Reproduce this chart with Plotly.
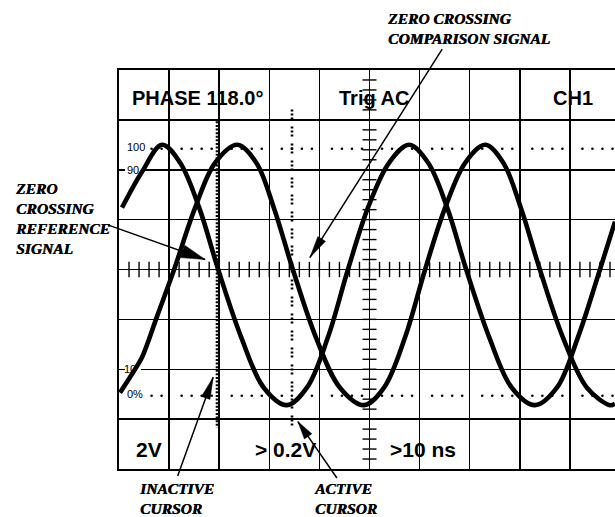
import numpy as np
import plotly.graph_objects as go

# ---------------- data (screen divisions) ----------------
# reference signal (zero crossing reference)
ref_x = [0.06, 0.46, 0.86, 1.22, 1.60, 1.98, 2.44, 2.89, 3.35, 3.75, 4.17, 4.57,
         4.97, 5.39, 5.79, 6.17, 6.55, 6.93, 7.39, 7.84, 8.30, 8.74, 9.16, 9.60, 9.90]
ref_y = [1.24, 1.96, 2.50, 2.14, 1.24, 0.00, -1.36, -2.37, -2.72, -2.37, -1.36, 0.00,
         1.24, 2.14, 2.50, 2.14, 1.24, 0.00, -1.36, -2.37, -2.72, -2.37, -1.36, 0.00, 0.96]
# comparison signal
cmp_x = [0.02, 0.32, 0.46, 0.76, 1.10, 1.52, 1.92, 2.36, 2.74, 3.09, 3.47, 3.93, 4.41,
         4.89, 5.29, 5.71, 6.11, 6.51, 6.91, 7.31, 7.67, 8.02, 8.40, 8.86, 9.34, 9.80, 9.90]
cmp_y = [-2.47, -2.00, -1.76, -0.94, 0.00, 1.24, 2.14, 2.50, 2.14, 1.24, 0.00, -1.36, -2.37,
         -2.72, -2.37, -1.36, 0.00, 1.24, 2.14, 2.50, 2.14, 1.24, 0.00, -1.36, -2.37, -2.72, -2.69]

inactive_cursor_x = 1.956
active_cursor_x = 3.453
level_100 = 2.42
level_0 = -2.53

screen_top_texts = ["PHASE 118.0°", "Trig AC", "CH1"]
screen_bottom_texts = ["2V", "> 0.2V", ">10 ns"]
level_labels = ["100", "90", "10", "0%"]
callouts = ["ZERO<br>CROSSING<br>REFERENCE<br>SIGNAL",
            "ZERO CROSSING<br>COMPARISON SIGNAL",
            "INACTIVE<br>CURSOR",
            "ACTIVE<br>CURSOR"]

# ---------------- layout geometry ----------------
W, H = 615, 517
L, T, B = 119, 70, 48
XR = (0, 9.9)
YR = (-4, 4)
PW, PH = W - L, H - T - B
sx = PW / (XR[1] - XR[0])
sy = PH / (YR[1] - YR[0])


def to_px(x, y):
    return L + (x - XR[0]) * sx, T + (YR[1] - y) * sy


def to_data(px, py):
    return XR[0] + (px - L) / sx, YR[1] - (py - T) / sy


def to_paper(x, y):
    return (x - XR[0]) / (XR[1] - XR[0]), (y - YR[0]) / (YR[1] - YR[0])


fig = go.Figure()

# dotted 100% / 0% reference levels
dot_x = np.array([d + o for d in range(10) for o in (0.25, 0.45, 0.65, 0.85)])
dot_x = dot_x[(dot_x > 0.6) & (dot_x < XR[1])]
for lv in (level_100, level_0):
    fig.add_trace(go.Scatter(x=dot_x, y=[lv] * len(dot_x), mode="markers",
                             marker=dict(size=2.6, color="black"),
                             hoverinfo="skip", showlegend=False))

# minor ticks on centre axes
tx = np.arange(0.2, XR[1], 0.2)
fig.add_trace(go.Scatter(x=tx, y=[0] * len(tx), mode="markers",
                         marker=dict(symbol="line-ns", size=11,
                                     line=dict(width=1.4, color="black")),
                         hoverinfo="skip", showlegend=False))
ty = np.arange(-3.8, 4.0, 0.2)
fig.add_trace(go.Scatter(x=[5] * len(ty), y=ty, mode="markers",
                         marker=dict(symbol="line-ew", size=10,
                                     line=dict(width=1.4, color="black")),
                         hoverinfo="skip", showlegend=False))

# cursors
fig.add_trace(go.Scatter(x=[inactive_cursor_x] * 2, y=[2.97, -3.17], mode="lines",
                         line=dict(color="black", width=2.6, dash="2px,1.6px"),
                         hoverinfo="skip", showlegend=False))
fig.add_trace(go.Scatter(x=[active_cursor_x] * 2, y=[3.21, -3.15], mode="lines",
                         line=dict(color="black", width=2.6,
                                   dash="2px,2px,2px,2px,2px,7px"),
                         hoverinfo="skip", showlegend=False))

# signals
for xs, ys in ((ref_x, ref_y), (cmp_x, cmp_y)):
    fig.add_trace(go.Scatter(x=xs, y=ys, mode="lines",
                             line=dict(color="black", width=4.6, shape="spline",
                                       smoothing=1.0),
                             hoverinfo="skip", showlegend=False))

shapes = []
# masks behind "90" and "10" labels (gridline interrupted)
for yv in (2, -2):
    x0, _ = to_data(125, 0)
    x1, _ = to_data(141, 0)
    shapes.append(dict(type="rect", xref="x", yref="y", x0=x0, x1=x1,
                       y0=yv - 0.08, y1=yv + 0.08, fillcolor="white",
                       line=dict(width=0), layer="between"))

annotations = []
sans_b20 = dict(family="Liberation Sans", size=20, color="black", weight="bold")
sans_b21 = dict(family="Liberation Sans", size=21, color="black", weight="bold")
# top row texts
for txt, xx in zip(screen_top_texts, (0.22, 4.35, 8.62)):
    annotations.append(dict(x=xx, y=3.43, text=txt, showarrow=False, xanchor="left",
                            yanchor="middle", font=sans_b20))
# bottom row texts
for txt, xx in zip(screen_bottom_texts, (0.30, 2.67, 5.36)):
    annotations.append(dict(x=xx, y=-3.6, text=txt, showarrow=False, xanchor="left",
                            yanchor="middle", font=sans_b21))
# level labels
for txt, xx, yy in zip(level_labels, (0.34, 0.28, 0.22, 0.32), (2.46, 2.0, -2.0, -2.5)):
    annotations.append(dict(x=xx, y=yy, text=txt, showarrow=False, xanchor="center",
                            yanchor="middle",
                            font=dict(family="Liberation Sans", size=11, color="black")))

serif = dict(family="Liberation Serif", size=15.5, color="black", weight="bold",
             style="italic", shadow="0.6px 0px 0px black")
for txt, xx, yy in zip(callouts, (-2.12, 5.31, 0.36, 3.85), (1.02, 4.83, -4.60, -4.60)):
    px_, py_ = to_paper(xx, yy)
    annotations.append(dict(x=px_, y=py_, xref="paper", yref="paper",
                            text=txt, showarrow=False, xanchor="left", yanchor="middle",
                            align="left", font=serif))

# arrows
arrow_tail_x = [-0.24, 6.47, 1.16, 4.37]
arrow_tail_y = [0.90, 4.45, -4.17, -4.21]
arrow_tip_x = [1.72, 3.81, 1.88, 3.57]
arrow_tip_y = [0.20, 0.24, -2.16, -3.05]
head_len = [24, 22, 22, 18]
head_wid = [13, 9, 9, 9]
for ax_, ay_, tx_, ty_, hl, hw in zip(arrow_tail_x, arrow_tail_y, arrow_tip_x,
                                      arrow_tip_y, head_len, head_wid):
    annotations.append(dict(x=tx_, y=ty_, ax=ax_, ay=ay_, xref="x", yref="y",
                            axref="x", ayref="y", text="", showarrow=True,
                            arrowhead=0, arrowwidth=1.5, arrowcolor="black",
                            standoff=0, startstandoff=0))
    p0 = np.array(to_px(ax_, ay_))
    p1 = np.array(to_px(tx_, ty_))
    u = (p1 - p0) / np.linalg.norm(p1 - p0)
    n = np.array([-u[1], u[0]])
    base = p1 - u * hl
    c1 = base + n * hw / 2
    c2 = base - n * hw / 2
    pts = [to_data(*p1), to_data(*c1), to_data(*c2)]
    path = "M {} {} L {} {} L {} {} Z".format(pts[0][0], pts[0][1], pts[1][0],
                                            pts[1][1], pts[2][0], pts[2][1])
    shapes.append(dict(type="path", xref="x", yref="y", path=path,
                       fillcolor="black", line=dict(width=0.5, color="black"),
                       layer="above"))

fig.update_layout(
    width=W, height=H, autosize=False,
    margin=dict(l=L, r=0, t=T, b=B, pad=0),
    paper_bgcolor="white", plot_bgcolor="white",
    showlegend=False,
    shapes=shapes, annotations=annotations,
    xaxis=dict(range=list(XR), tick0=0, dtick=1, showgrid=True, gridcolor="black",
               gridwidth=1.5, showline=True, linecolor="black", linewidth=2,
               mirror=True, zeroline=False, showticklabels=False, ticks="",
               fixedrange=True),
    yaxis=dict(range=list(YR), tick0=0, dtick=1, showgrid=True, gridcolor="black",
               gridwidth=1.5, showline=True, linecolor="black", linewidth=2,
               mirror=False, zeroline=False, showticklabels=False, ticks="",
               fixedrange=True),
)

fig.write_html("out.html", config={"displayModeBar": False, "staticPlot": True},
               post_script="document.body.style.margin='0px';")
